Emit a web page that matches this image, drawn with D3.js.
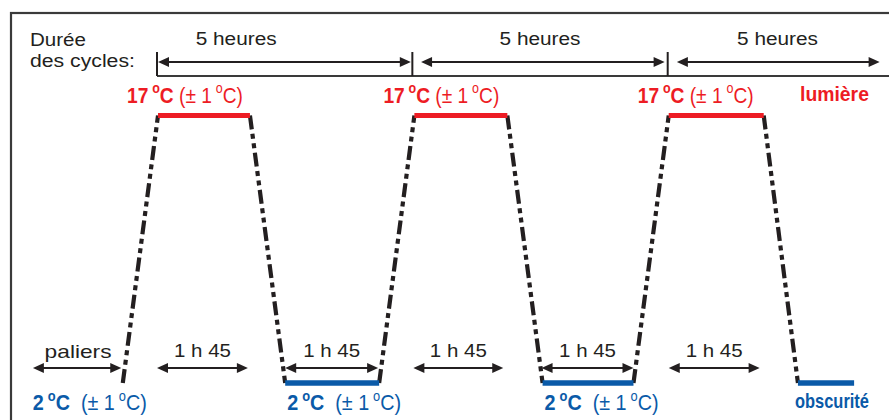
<!DOCTYPE html>
<html>
<head>
<meta charset="utf-8">
<script src="https://cdn.jsdelivr.net/npm/d3@7"></script>
<style>
  html, body { margin: 0; padding: 0; background: #fff; }
  svg { display: block; font-family: "Liberation Sans", Arial, Helvetica, sans-serif; }
</style>
</head>
<body>
<script>
// ---------------- DATA ----------------
const cycleStarts = [0, 5, 10];                       // hours
const cycleLabel = "5 heures";
const cycleLabelTimes = [1.55, 7.5, 12.15];            // hours (label centre)
const cycleArrows = [[0.02, 4.97], [5.17, 9.94], [10.18, 14.15]];

const profileTime = [-0.67, 0.02, 1.82, 2.51, 4.35, 5.04, 6.86, 7.55, 9.33, 10.02, 11.88, 12.55];
const profileTemp = [2, 17, 17, 2, 2, 17, 17, 2, 2, 17, 17, 2];

const warmPlateaus = [[0.02, 1.82], [5.04, 6.86], [10.02, 11.88]];
const coldPlateaus = [[2.51, 4.35], [7.55, 9.33], [12.55, 13.65]];

const plateauArrows = [[0, 1.78], [2.51, 4.33], [5.02, 6.78], [7.53, 9.33], [10.02, 11.8]];
const plateauLabel = "1 h 45";
const palierArrow = [-2.43, -0.70];
const palierLabel = "paliers";

const warmTemp = 17, coldTemp = 2, tolerance = 1;
const warmLabelTimes = [0.02, 5.04, 10.02];
const coldLabelTimes = [-2.47, 2.51, 7.55];
const lightLabel = "lumière";
const darkLabel = "obscurité";
const durationLabel = ["Durée", "des cycles:"];

// ---------------- STYLE ----------------
const RED = "#ed1c24", BLUE = "#0a5aa8", INK = "#231f20";
const W = 889, H = 420;

const svg = d3.select("body").append("svg").attr("width", W).attr("height", H);

const x = d3.scaleLinear().domain([0, 15]).range([157, 157 + 15 * 51.07]);
const y = d3.scaleLinear().domain([coldTemp, warmTemp]).range([383, 115.5]);

// frame
svg.append("rect").attr("x", 11).attr("y", 13).attr("width", 900).attr("height", 420)
  .attr("fill", "none").attr("stroke", "#3a3a3a").attr("stroke-width", 2.2);

// helper: fitted text
function fitText(parent, px, py, width, anchor, build) {
  const g = parent.append("g");
  const t = g.append("text").attr("text-anchor", anchor);
  build(t);
  const len = t.node().getComputedTextLength();
  const s = width / len;
  g.attr("transform", `translate(${px},${py}) scale(${s},1)`);
  return g;
}

function arrowHead(parent, xt, yy, dir) {
  const L = 11, h = 5;
  parent.append("path")
    .attr("d", `M${xt},${yy} L${xt - dir * L},${yy - h} L${xt - dir * L},${yy + h} Z`)
    .attr("fill", INK);
}
function arrow(parent, x1, x2, yy) {
  parent.append("line").attr("x1", x1 + 4).attr("x2", x2 - 4).attr("y1", yy).attr("y2", yy)
    .attr("stroke", INK).attr("stroke-width", 2);
  arrowHead(parent, x1, yy, -1);
  arrowHead(parent, x2, yy, 1);
}

// ---- cycle duration header ----
const head = svg.append("g");
head.append("line").attr("x1", x(0)).attr("x2", W + 5).attr("y1", 76).attr("y2", 76)
  .attr("stroke", "#3a3a3a").attr("stroke-width", 2);
head.selectAll("line.tick").data(cycleStarts).enter().append("line")
  .attr("class", "tick")
  .attr("x1", d => x(d)).attr("x2", d => x(d)).attr("y1", 52).attr("y2", 76)
  .attr("stroke", INK).attr("stroke-width", 2);
cycleArrows.forEach(a => arrow(head, x(a[0]), x(a[1]), 62));
cycleLabelTimes.forEach(t => {
  fitText(head, x(t), 45, 81, "middle", s => s.attr("font-size", 19).attr("fill", INK).text(cycleLabel));
});
fitText(head, 30, 45.5, 56, "start", s => s.attr("font-size", 19).attr("fill", INK).text(durationLabel[0]));
fitText(head, 30, 67, 105, "start", s => s.attr("font-size", 19).attr("fill", INK).text(durationLabel[1]));

// ---- ramps (dash-dot-dot) ----
const line = d3.line().x(d => x(d[0])).y(d => y(d[1]));
for (let i = 0; i < profileTime.length - 1; i++) {
  if (profileTemp[i] !== profileTemp[i + 1]) {
    svg.append("path")
      .datum([[profileTime[i], profileTemp[i]], [profileTime[i + 1], profileTemp[i + 1]]])
      .attr("d", line)
      .attr("fill", "none").attr("stroke", INK).attr("stroke-width", 4.2)
      .attr("stroke-dasharray", "14,4.5,5,4.5,5,4.5");
  }
}

// ---- plateaus ----
svg.selectAll("line.warm").data(warmPlateaus).enter().append("line")
  .attr("class", "warm")
  .attr("x1", d => x(d[0])).attr("x2", d => x(d[1]))
  .attr("y1", y(warmTemp)).attr("y2", y(warmTemp))
  .attr("stroke", RED).attr("stroke-width", 5);
svg.selectAll("line.cold").data(coldPlateaus).enter().append("line")
  .attr("class", "cold")
  .attr("x1", d => x(d[0])).attr("x2", d => x(d[1]))
  .attr("y1", y(coldTemp)).attr("y2", y(coldTemp))
  .attr("stroke", BLUE).attr("stroke-width", 5.5);

// ---- plateau arrows ----
const bottom = svg.append("g");
plateauArrows.forEach(a => {
  arrow(bottom, x(a[0]), x(a[1]), 368);
  fitText(bottom, (x(a[0]) + x(a[1])) / 2, 357, 57, "middle",
    s => s.attr("font-size", 18).attr("fill", INK).text(plateauLabel));
});
arrow(bottom, x(palierArrow[0]), x(palierArrow[1]), 368);
fitText(bottom, (x(palierArrow[0]) + x(palierArrow[1])) / 2 + 1, 357.5, 67, "middle",
  s => s.attr("font-size", 19).attr("fill", INK).text(palierLabel));

// ---- temperature labels ----
function tempText(t, value, color, gap) {
  t.attr("font-size", 21.5).attr("fill", color);
  t.append("tspan").attr("font-weight", "bold").text(value + "\u2009");
  t.append("tspan").attr("font-weight", "bold").attr("font-size", 14).attr("dy", -9.5).text("o");
  t.append("tspan").attr("font-weight", "bold").attr("dy", 9.5).text("C");
  t.append("tspan").text(gap + "(± " + tolerance + "\u2009");
  t.append("tspan").attr("font-size", 14).attr("dy", -9.5).text("o");
  t.append("tspan").attr("dy", 9.5).text("C)");
}
warmLabelTimes.forEach(t => {
  fitText(svg, x(t) - 31, 102.5, 116, "start", s => tempText(s, warmTemp, RED, " "));
});
coldLabelTimes.forEach(t => {
  fitText(svg, x(t) + 2, 410, 114, "start", s => tempText(s, coldTemp, BLUE, "\u00a0 "));
});

fitText(svg, 800, 101, 69, "start",
  s => s.attr("font-size", 20).attr("font-weight", "bold").attr("fill", RED).text(lightLabel));
fitText(svg, 795, 408, 74, "start",
  s => s.attr("font-size", 20).attr("font-weight", "bold").attr("fill", BLUE).text(darkLabel));
</script>
</body>
</html>
